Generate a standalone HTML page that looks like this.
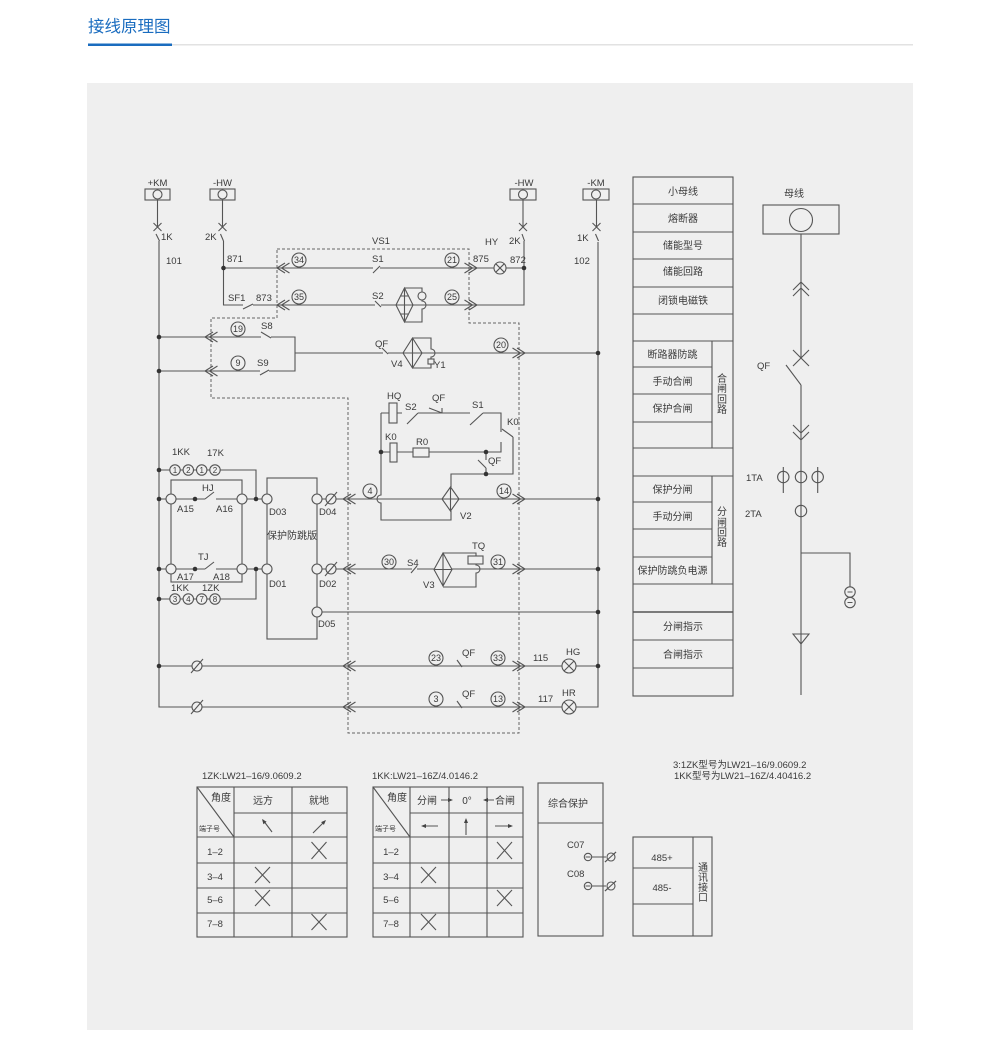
<!DOCTYPE html>
<html><head><meta charset="utf-8">
<style>
html,body{margin:0;padding:0;background:#fff;}
svg{display:block;}
text{font-family:"Liberation Sans","Noto Sans CJK SC",sans-serif;fill:#3a3a3a;stroke:none;}
</style></head>
<body>
<svg width="1000" height="1044" viewBox="0 0 1000 1044" xmlns="http://www.w3.org/2000/svg">
<rect width="1000" height="1044" fill="#fff"/>
<text x="88" y="32" font-size="16.5" style="fill:#1a6cbf">接线原理图</text>
<rect x="88" y="44" width="825" height="1.5" fill="#e2e2e2"/>
<rect x="88" y="43.5" width="84" height="2.5" fill="#1a6cbf"/>
<rect x="87" y="83" width="826" height="947" fill="#efefef"/>

<!-- dashed region -->
<path d="M277,249 H469 V323 H519 V733 H348 V398 H211 V318 H277 Z" fill="none" stroke="#666" stroke-width="1" stroke-dasharray="3,2"/>

<g stroke="#555" stroke-width="1.1" fill="none">
<!-- top terminals -->
<rect x="145" y="189" width="25" height="11"/><circle cx="157.5" cy="194.5" r="4.5"/>
<rect x="210" y="189" width="25" height="11"/><circle cx="222.5" cy="194.5" r="4.5"/>
<rect x="510" y="189" width="26" height="11"/><circle cx="523" cy="194.5" r="4.5"/>
<rect x="583" y="189" width="26" height="11"/><circle cx="596" cy="194.5" r="4.5"/>

<!-- left bus +KM -->
<path d="M157.5,200 V227 M153.5,223 L161.5,231 M153.5,231 L161.5,223 M156,234 L159.5,241 M159,241 V707 H598 V242 M595.5,234 L598.5,241 M596.5,200 V227 M592.5,223 L600.5,231 M592.5,231 L600.5,223"/>
<!-- -HW left -->
<path d="M222.5,200 V227 M218.5,223 L226.5,231 M218.5,231 L226.5,223 M220.5,234 L223.5,241 M223.5,241 V305 H243 M243,309 L253,304 M253,305 H375 M375,301 L381,307 M381,305 H396"/>
<!-- -HW right -->
<path d="M523,200 V227 M519,223 L527,231 M519,231 L527,223 M522,234 L524.5,241 M524,241 V305 H413"/>
<!-- row 1 -->
<path d="M223.5,268 H373 M373,273 L380,266 M380,268 H494 M506,268 H524"/>
<circle cx="500" cy="268" r="6"/><path d="M495.8,263.8 L504.2,272.2 M495.8,272.2 L504.2,263.8"/>
<!-- row 2 bridge -->
<polygon points="404.5,288 413,305 404.5,322 396,305"/>
<path d="M404.5,288 V322 M396,305 H413 M401,296 H408 M401,314 H408"/>
<path d="M404.5,288 H422 V301 A4,4 0 0 1 422,309 V322 H404.5"/>
<circle cx="422" cy="296" r="4" fill="#efefef"/>

<!-- S8 / S9 -->
<path d="M159,337 H261 M261,332 L271,338 M271,337 H295 V371 H269 M269,370 L260,375 M260,371 H159"/>
<path d="M295,353 H383 M382,348 L388,354 M388,353 H403"/>
<polygon points="412.5,338 422,353 412.5,368 403,353"/>
<path d="M412.5,338 V368 M403,353 H422"/>
<path d="M412.5,338 H431 V349 A4,4 0 0 1 431,357 V368 H412.5"/>
<rect x="428" y="359" width="6" height="5" fill="#efefef"/>
<path d="M422,353 H598"/>

<!-- HQ / K0 circuit -->
<path d="M381,413 H389 M397,413 H402 M407,424 L418,413 M418,413 H470 M429,408 L442,413 M442,408 V413 M470,425 L483,413 M483,413 H501 V432 M502,429 L513,437 M513,437 V474 H451 V487"/>
<rect x="389" y="403" width="8" height="20"/>
<path d="M381,413 V495 A4,4 0 0 0 381,503 V520 H451 V511"/>
<path d="M381,452 H390 M397,452 H413 M429,452 H501 V442"/>
<rect x="390" y="443" width="7" height="19"/>
<rect x="413" y="448" width="16" height="9"/>
<path d="M486,452 V460 M478,460 L486,468 M486,468 V474"/>
<!-- V2 -->
<polygon points="450.5,487 459,499 450.5,511 442,499"/>
<path d="M450.5,487 V511 M442,499 H459"/>
<path d="M322,499 H442 M459,499 H598"/>

<!-- left block -->
<path d="M159,470 H256 V499 M159,599 H256 V569"/>
<rect x="171" y="480" width="71" height="102"/>
<path d="M159,499 H205 M205,499 L214,492 M216,499 H262"/>
<path d="M159,569 H205 M205,569 L214,562 M216,569 H262"/>
<rect x="267" y="478" width="50" height="161"/>
<path d="M322,569 H412 M411,573 L417,566 M417,569 H434 M452,569 H598 M322,612 H598"/>
<!-- V3 -->
<polygon points="443,553 452,569.5 443,586 434,569.5"/>
<path d="M443,553 V586 M434,569.5 H452"/>
<path d="M443,553 H476 V565 A4,4 0 0 1 476,573 V587 H443"/>
<rect x="468" y="556" width="15" height="8" fill="#efefef"/>

<!-- bottom rows -->
<path d="M159,666 H598 M457,660 L462,667"/>
<path d="M457,701 L462,708"/>
<circle cx="569" cy="666" r="7" fill="#efefef"/><path d="M564,661 L574,671 M564,671 L574,661"/>
<circle cx="569" cy="707" r="7" fill="#efefef"/><path d="M564,702 L574,712 M564,712 L574,702"/>

<!-- terminal circles -->
<g fill="#efefef">
<circle cx="171" cy="499" r="5"/><circle cx="242" cy="499" r="5"/>
<circle cx="171" cy="569" r="5"/><circle cx="242" cy="569" r="5"/>
<circle cx="267" cy="499" r="5"/><circle cx="267" cy="569" r="5"/>
<circle cx="317" cy="499" r="5"/><circle cx="317" cy="569" r="5"/><circle cx="317" cy="612" r="5"/>
<circle cx="331" cy="499" r="5"/><circle cx="331" cy="569" r="5"/>
<circle cx="197" cy="666" r="5"/><circle cx="197" cy="707" r="5"/>
<circle cx="175" cy="470" r="5.2"/><circle cx="188.3" cy="470" r="5.2"/><circle cx="201.7" cy="470" r="5.2"/><circle cx="215" cy="470" r="5.2"/>
<circle cx="175" cy="599" r="5.2"/><circle cx="188.3" cy="599" r="5.2"/><circle cx="201.7" cy="599" r="5.2"/><circle cx="215" cy="599" r="5.2"/>
<circle cx="299" cy="260" r="7"/><circle cx="299" cy="297" r="7"/>
<circle cx="452" cy="260" r="7"/><circle cx="452" cy="297" r="7"/>
<circle cx="238" cy="329" r="7"/><circle cx="238" cy="363" r="7"/>
<circle cx="501" cy="345" r="7"/>
<circle cx="370" cy="491" r="7"/><circle cx="504" cy="491" r="7"/>
<circle cx="389" cy="562" r="7"/><circle cx="498" cy="562" r="7"/>
<circle cx="436" cy="658" r="7"/><circle cx="498" cy="658" r="7"/>
<circle cx="436" cy="699" r="7"/><circle cx="498" cy="699" r="7"/>
</g>
<path d="M325,506 L337,492 M325,576 L337,562 M191,673 L203,659 M191,714 L203,700"/>

<!-- arrows -->
<path d="M285,263 L277,268 L285,273 M289.5,263 L281.5,268 L289.5,273
M285,300 L277,305 L285,310 M289.5,300 L281.5,305 L289.5,310
M213,332 L205,337 L213,342 M217.5,332 L209.5,337 L217.5,342
M213,366 L205,371 L213,376 M217.5,366 L209.5,371 L217.5,376
M351,494 L343,499 L351,504 M355.5,494 L347.5,499 L355.5,504
M351,564 L343,569 L351,574 M355.5,564 L347.5,569 L355.5,574
M351,661 L343,666 L351,671 M355.5,661 L347.5,666 L355.5,671
M351,702 L343,707 L351,712 M355.5,702 L347.5,707 L355.5,712
M469,263 L477,268 L469,273 M464.5,263 L472.5,268 L464.5,273
M469,300 L477,305 L469,310 M464.5,300 L472.5,305 L464.5,310
M517,348 L525,353 L517,358 M512.5,348 L520.5,353 L512.5,358
M517,494 L525,499 L517,504 M512.5,494 L520.5,499 L512.5,504
M517,564 L525,569 L517,574 M512.5,564 L520.5,569 L512.5,574
M517,661 L525,666 L517,671 M512.5,661 L520.5,666 L512.5,671
M517,702 L525,707 L517,712 M512.5,702 L520.5,707 L512.5,712"/>

<!-- right table -->
<rect x="633" y="177" width="100" height="519"/>
<path d="M633,204 H733 M633,232 H733 M633,259 H733 M633,287 H733 M633,314 H733 M633,341 H733
M633,367 H712 M633,394 H712 M633,422 H712 M633,448 H733 M633,476 H733
M633,502 H712 M633,529 H712 M633,557 H712 M633,584 H733 M633,640 H733 M633,668 H733
M712,341 V448 M712,476 V584"/>
<path d="M633,612 H733" stroke-width="1.6"/>

<!-- right bus -->
<rect x="763" y="205" width="76" height="29"/>
<circle cx="801" cy="220" r="11.5"/>
<path d="M801,234 V358 M793,290 L801,282 L809,290 M793,296 L801,288 L809,296
M793,350 L809,366 M793,366 L809,350 M786,365 L801,385 M801,385 V695
M793,425 L801,433 L809,425 M793,432 L801,440 L809,432
M783.3,467 V493 M817.7,467 V493
M801,553 H850 V587"/>
<circle cx="783.3" cy="477" r="5.7"/><circle cx="801" cy="477" r="5.7"/><circle cx="817.7" cy="477" r="5.7"/>
<circle cx="801" cy="511" r="5.7"/>
<circle cx="850" cy="592" r="5.2"/><circle cx="850" cy="602.5" r="5.2"/>
<path d="M847.5,592 H852.5 M847.5,602.5 H852.5"/>
<polygon points="793,634 809,634 801,644"/>

<!-- bottom table 1 -->
<rect x="197" y="787" width="150" height="150"/>
<path d="M234,787 V937 M292,787 V937 M234,813 H347 M197,837 H347 M197,863 H347 M197,888 H347 M197,913 H347 M197,787 L234,837"/>
<path d="M311.5,842 L326.5,859 M311.5,859 L326.5,842
M255,867 L270,883 M255,883 L270,867
M255,890 L270,906 M255,906 L270,890
M311.5,914 L326.5,930 M311.5,930 L326.5,914"/>
<path d="M272,832 L263,820 M313,833 L325,821"/>
<!-- bottom table 2 -->
<rect x="373" y="787" width="150" height="150"/>
<path d="M410,787 V937 M449,787 V937 M487,787 V937 M410,813 H523 M373,837 H523 M373,863 H523 M373,888 H523 M373,913 H523 M373,787 L410,837"/>
<path d="M497,842 L512,859 M497,859 L512,842
M421,867 L436,883 M421,883 L436,867
M497,890 L512,906 M497,906 L512,890
M421,914 L436,930 M421,930 L436,914"/>
<path d="M438,826 H423 M466,835 V820 M495,826 H511 M441,800 H451 M494,800 H485"/>

<!-- 综合保护 -->
<rect x="538" y="783" width="65" height="153"/>
<path d="M538,823 H603 M591.5,857 H606 M591.5,886 H606 M605,862 L616,852 M605,891 L616,881"/>
<circle cx="588" cy="857" r="3.7"/><circle cx="588" cy="886" r="3.7"/>
<circle cx="611" cy="857" r="4" fill="#efefef"/><circle cx="611" cy="886" r="4" fill="#efefef"/>
<path d="M605,862 L616,852 M605,891 L616,881 M585.5,857 H590.5 M585.5,886 H590.5"/>
<rect x="633" y="837" width="79" height="99"/>
<path d="M693,837 V936 M633,868 H693 M633,904 H693"/>
</g>

<!-- arrowheads in tables -->
<g fill="#444">
<polygon points="262,819 263.4,824.3 266.6,821.8"/>
<polygon points="326,820 323.9,824.9 321.1,822.1"/>
<polygon points="421,826 426,824 426,828"/>
<polygon points="466,818 464,823 468,823"/>
<polygon points="513,826 508,824 508,828"/>
<polygon points="453,800 448,798 448,802"/>
<polygon points="483,800 488,798 488,802"/>
</g>

<!-- junction dots -->
<g fill="#333">
<circle cx="159" cy="337" r="2.3"/><circle cx="159" cy="371" r="2.3"/>
<circle cx="159" cy="470" r="2.3"/><circle cx="159" cy="499" r="2.3"/>
<circle cx="159" cy="569" r="2.3"/><circle cx="159" cy="599" r="2.3"/>
<circle cx="159" cy="666" r="2.3"/>
<circle cx="223.5" cy="268" r="2.3"/><circle cx="524" cy="268" r="2.3"/>
<circle cx="598" cy="353" r="2.3"/><circle cx="598" cy="499" r="2.3"/>
<circle cx="598" cy="569" r="2.3"/><circle cx="598" cy="612" r="2.3"/>
<circle cx="598" cy="666" r="2.3"/>
<circle cx="195" cy="499" r="2.3"/><circle cx="195" cy="569" r="2.3"/>
<circle cx="256" cy="499" r="2.3"/><circle cx="256" cy="569" r="2.3"/>
<circle cx="381" cy="452" r="2.3"/><circle cx="486" cy="452" r="2.3"/>
<circle cx="486" cy="474" r="2.3"/>
</g>

<!-- circled numbers -->
<g font-size="9" text-anchor="middle">
<text x="299" y="263.2">34</text><text x="299" y="300.2">35</text>
<text x="452" y="263.2">21</text><text x="452" y="300.2">25</text>
<text x="238" y="332.2">19</text><text x="238" y="366.2">9</text>
<text x="501" y="348.2">20</text>
<text x="370" y="494.2">4</text><text x="504" y="494.2">14</text>
<text x="389" y="565.2">30</text><text x="498" y="565.2">31</text>
<text x="436" y="661.2">23</text><text x="498" y="661.2">33</text>
<text x="436" y="702.2">3</text><text x="498" y="702.2">13</text>
</g>
<g font-size="8" text-anchor="middle">
<text x="175" y="473">1</text><text x="188.3" y="473">2</text><text x="201.7" y="473">1</text><text x="215" y="473">2</text>
<text x="175" y="602">3</text><text x="188.3" y="602">4</text><text x="201.7" y="602">7</text><text x="215" y="602">8</text>
</g>

<!-- labels -->
<g font-size="9.5">
<text x="157.5" y="186" text-anchor="middle">+KM</text>
<text x="222.5" y="186" text-anchor="middle">-HW</text>
<text x="524" y="186" text-anchor="middle">-HW</text>
<text x="596" y="186" text-anchor="middle">-KM</text>
<text x="161" y="240">1K</text>
<text x="205" y="240">2K</text>
<text x="166" y="264">101</text>
<text x="227" y="262">871</text>
<text x="228" y="301">SF1</text>
<text x="256" y="301">873</text>
<text x="372" y="244">VS1</text>
<text x="372" y="262">S1</text>
<text x="372" y="299">S2</text>
<text x="485" y="245">HY</text>
<text x="509" y="244">2K</text>
<text x="473" y="262">875</text>
<text x="510" y="263">872</text>
<text x="577" y="241">1K</text>
<text x="574" y="264">102</text>
<text x="261" y="329">S8</text>
<text x="257" y="366">S9</text>
<text x="375" y="347">QF</text>
<text x="391" y="367">V4</text>
<text x="434" y="368">Y1</text>
<text x="387" y="399">HQ</text>
<text x="405" y="410">S2</text>
<text x="432" y="401">QF</text>
<text x="472" y="408">S1</text>
<text x="507" y="425">K0</text>
<text x="385" y="440">K0</text>
<text x="416" y="445">R0</text>
<text x="488" y="464">QF</text>
<text x="460" y="519">V2</text>
<text x="472" y="549">TQ</text>
<text x="407" y="566">S4</text>
<text x="423" y="588">V3</text>
<text x="172" y="455">1KK</text>
<text x="207" y="456">17K</text>
<text x="202" y="491">HJ</text>
<text x="177" y="512">A15</text>
<text x="216" y="512">A16</text>
<text x="198" y="560">TJ</text>
<text x="177" y="580">A17</text>
<text x="213" y="580">A18</text>
<text x="171" y="591">1KK</text>
<text x="202" y="591">1ZK</text>
<text x="269" y="515">D03</text>
<text x="319" y="515">D04</text>
<text x="269" y="587">D01</text>
<text x="319" y="587">D02</text>
<text x="318" y="627">D05</text>
<text x="462" y="656">QF</text>
<text x="533" y="661">115</text>
<text x="566" y="655">HG</text>
<text x="462" y="697">QF</text>
<text x="538" y="702">117</text>
<text x="562" y="696">HR</text>
<text x="757" y="369">QF</text>
<text x="746" y="481">1TA</text>
<text x="745" y="517">2TA</text>
<text x="567" y="848">C07</text>
<text x="567" y="877">C08</text>
<text x="662" y="861" text-anchor="middle">485+</text>
<text x="662" y="891" text-anchor="middle">485-</text>
<text x="202" y="779">1ZK:LW21–16/9.0609.2</text>
<text x="372" y="779">1KK:LW21–16Z/4.0146.2</text>
<text x="673" y="768">3:1ZK型号为LW21–16/9.0609.2</text>
<text x="674" y="779">1KK型号为LW21–16Z/4.40416.2</text>
</g>
<g font-size="10">
<text x="292" y="539" text-anchor="middle">保护防跳版</text>
<text x="794" y="197" text-anchor="middle">母线</text>
<g text-anchor="middle">
<text x="683" y="195">小母线</text>
<text x="683" y="222">熔断器</text>
<text x="683" y="249">储能型号</text>
<text x="683" y="275">储能回路</text>
<text x="683" y="304">闭锁电磁铁</text>
<text x="672.5" y="358">断路器防跳</text>
<text x="672.5" y="385">手动合闸</text>
<text x="672.5" y="412">保护合闸</text>
<text x="672.5" y="493">保护分闸</text>
<text x="672.5" y="520">手动分闸</text>
<text x="672.5" y="574">保护防跳负电源</text>
<text x="683" y="630">分闸指示</text>
<text x="683" y="658">合闸指示</text>
<text x="722" y="382">合</text><text x="722" y="392">闸</text><text x="722" y="403">回</text><text x="722" y="413">路</text>
<text x="722" y="515">分</text><text x="722" y="526">闸</text><text x="722" y="536">回</text><text x="722" y="546">路</text>
<text x="703" y="871">通</text><text x="703" y="881">讯</text><text x="703" y="891">接</text><text x="703" y="901">口</text>
<text x="221" y="801">角度</text>
<text x="263" y="804">远方</text>
<text x="319" y="804">就地</text>
<text x="397" y="801">角度</text>
<text x="467" y="804">0°</text>
</g>
<text x="417" y="804">分闸</text>
<text x="495" y="804">合闸</text>
<text x="548" y="807">综合保护</text>
</g>
<g font-size="7">
<text x="199" y="831">端子号</text>
<text x="375" y="831">端子号</text>
</g>
<g font-size="9.5" text-anchor="middle">
<text x="215" y="855">1–2</text><text x="215" y="880">3–4</text><text x="215" y="903">5–6</text><text x="215" y="927">7–8</text>
<text x="391" y="855">1–2</text><text x="391" y="880">3–4</text><text x="391" y="903">5–6</text><text x="391" y="927">7–8</text>
</g>
</svg>
</body></html>
